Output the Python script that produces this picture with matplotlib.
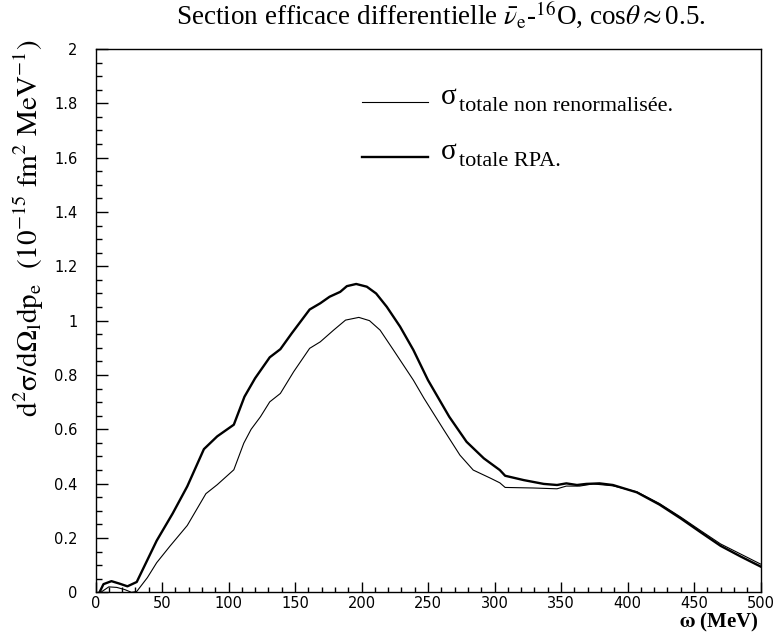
import matplotlib
matplotlib.use('Agg')
import matplotlib.pyplot as plt
from matplotlib.ticker import MultipleLocator

# omega (MeV) and d2sigma values
omega_rpa = [3, 6, 12, 18, 24, 31, 46, 58, 69, 81.5, 91.5, 104, 112, 120, 131, 139, 147.5,
             161, 169, 176, 184, 189, 196, 204, 211, 219, 229, 239, 250, 266, 279, 292, 304,
             308, 322, 337, 347, 354, 362, 369, 379, 389, 407, 424, 440, 455, 470, 485, 500]
sigma_rpa = [0.0, 0.03, 0.041, 0.032, 0.022, 0.038, 0.19, 0.29, 0.39, 0.527, 0.574, 0.617, 0.72,
             0.788, 0.865, 0.895, 0.953, 1.041, 1.064, 1.088, 1.106, 1.127, 1.135, 1.125, 1.1,
             1.051, 0.978, 0.892, 0.781, 0.646, 0.554, 0.493, 0.45, 0.429, 0.413, 0.399, 0.395,
             0.401, 0.395, 0.399, 0.401, 0.395, 0.368, 0.323, 0.272, 0.221, 0.171, 0.132, 0.095]

omega_nr = [4, 10, 16, 22, 27, 31, 39, 46, 56, 69, 83, 91.5, 104, 111.5, 117, 124, 131, 139,
            149, 161, 169, 179, 188, 198, 206, 214, 224, 239, 247, 262, 274, 284, 297, 304,
            308, 329, 347, 354, 364, 374, 389, 407, 424, 440, 455, 470, 485, 500]
sigma_nr = [0.0, 0.02, 0.018, 0.01, 0.0, 0.003, 0.054, 0.109, 0.17, 0.246, 0.363, 0.396, 0.451,
            0.549, 0.6, 0.646, 0.701, 0.732, 0.812, 0.898, 0.922, 0.965, 1.002, 1.012, 1.0,
            0.965, 0.892, 0.781, 0.714, 0.597, 0.505, 0.45, 0.42, 0.403, 0.386, 0.384, 0.381,
            0.391, 0.391, 0.399, 0.392, 0.37, 0.327, 0.277, 0.227, 0.178, 0.141, 0.104]

yticks = [0, 0.2, 0.4, 0.6, 0.8, 1, 1.2, 1.4, 1.6, 1.8, 2]
ytick_labels = ['0', '0.2', '0.4', '0.6', '0.8', '1', '1.2', '1.4', '1.6', '1.8', '2']
legend_labels = ['totale non renormalisée.', 'totale RPA.']

plt.rcParams['mathtext.fontset'] = 'stix'
serif = 'Liberation Serif'

W, H = 778, 634
fig = plt.figure(figsize=(W / 100, H / 100), dpi=100)
ax = fig.add_axes([95.5 / W, 1 - 592.3 / H, 665 / W, 543.3 / H])

ax.plot(omega_nr, sigma_nr, color='black', lw=0.8)
ax.plot(omega_rpa, sigma_rpa, color='black', lw=1.7)

ax.set_xlim(0, 500)
ax.set_ylim(0, 2)
ax.xaxis.set_major_locator(MultipleLocator(50))
ax.xaxis.set_minor_locator(MultipleLocator(10))
ax.yaxis.set_minor_locator(MultipleLocator(0.05))
ax.set_yticks(yticks)
ax.set_yticklabels(ytick_labels)
ax.tick_params(axis='x', which='major', direction='in', length=7, width=1, top=False, pad=3)
ax.tick_params(axis='x', which='minor', direction='in', length=3.5, width=1, top=False)
ax.tick_params(axis='y', which='major', direction='in', length=8.5, width=1, right=False, pad=13)
ax.tick_params(axis='y', which='minor', direction='in', length=4.3, width=1, right=False)
for lab in ax.get_xticklabels() + ax.get_yticklabels():
    lab.set_fontfamily('DejaVu Sans')
    lab.set_fontsize(10.5)
for s in ax.spines.values():
    s.set_linewidth(1)

fig.text(441 / W, 1 - 15 / H,
         r'Section efficace differentielle $\bar{\nu}_{\mathrm{e}}$-$^{16}$O, cos$\theta\approx$0.5.',
         ha='center', va='center', fontsize=19.5, family=serif)

fig.text(29 / W, 1 - 40 / H,
         r'$\mathrm{d^2\sigma/d\Omega_l dp_e\ \ (10^{-15}\ fm^2\ MeV^{-1})}$',
         rotation=90, ha='center', va='top', fontsize=21)

fig.text(759 / W, 1 - 622 / H, r'$\mathbf{\omega}$ (MeV)', ha='right', va='center',
         fontsize=15, family=serif, fontweight='bold')

# legend drawn by hand
x0 = (362 - 95.5) / 665
x1 = (428 - 95.5) / 665
for i, (lab, lw) in enumerate(zip(legend_labels, [0.8, 1.7])):
    yl = 102.3 + 55 * i
    yf = (592.3 - yl) / 543.3
    ax.plot([x0, x1], [yf, yf], transform=ax.transAxes, color='black', lw=lw)
    fig.text(441 / W, 1 - (yl + 1.5) / H, 'σ', fontsize=21, family=serif,
             ha='left', va='baseline')
    fig.text(459 / W, 1 - (yl + 8.5) / H, lab, fontsize=16, family=serif,
             ha='left', va='baseline')

fig.savefig('out.png', dpi=100)
